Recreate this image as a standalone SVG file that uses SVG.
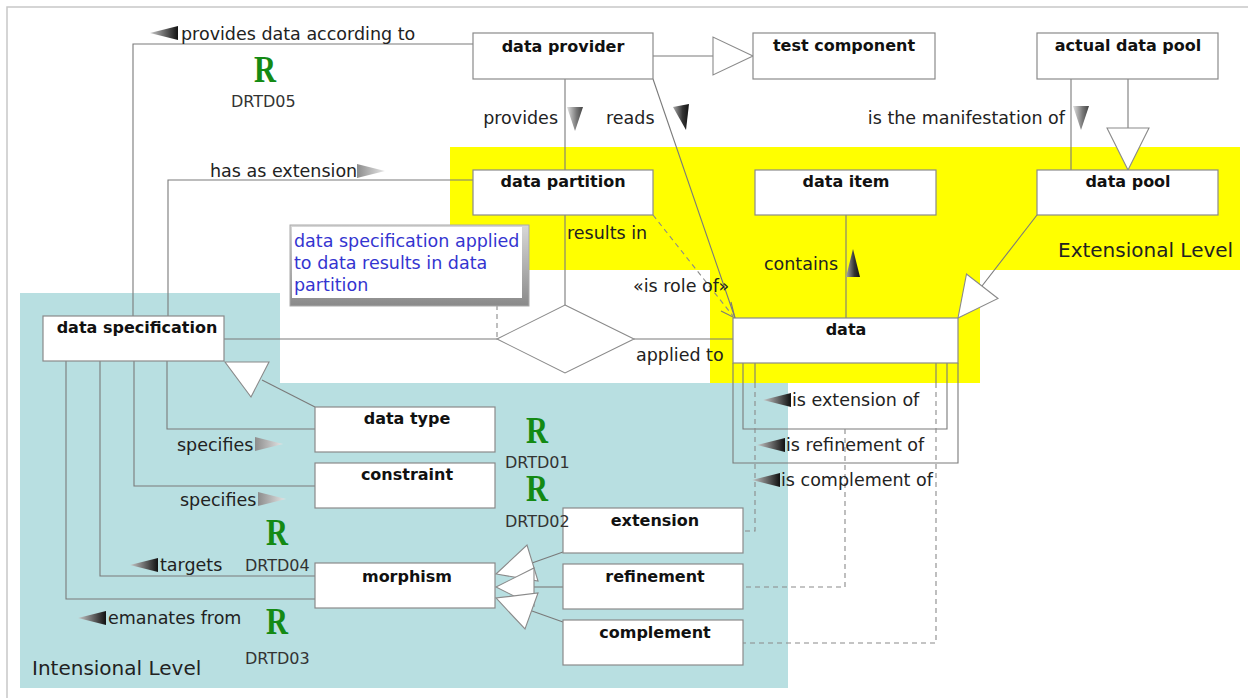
<svg xmlns="http://www.w3.org/2000/svg" xmlns:xlink="http://www.w3.org/1999/xlink" width="1248" height="698" viewBox="0 0 1248 698">
<style>
.box{fill:#fff;stroke:#8a8a8a;stroke-width:1.2}
.ttl{font-family:"DejaVu Sans","Liberation Sans",sans-serif;font-weight:bold;font-size:16px;fill:#111;text-anchor:middle}
.lbl{font-family:"DejaVu Sans","Liberation Sans",sans-serif;font-size:17.5px;fill:#222}
.lvl{font-family:"DejaVu Sans","Liberation Sans",sans-serif;font-size:20px;fill:#222}
.drtd{font-family:"DejaVu Sans","Liberation Sans",sans-serif;font-size:16px;fill:#333}
.r{font-family:"Liberation Serif","DejaVu Serif",serif;font-weight:bold;font-size:38px;fill:#148a14;text-anchor:middle}
.note{font-family:"DejaVu Sans","Liberation Sans",sans-serif;font-size:17.5px;fill:#3434d0}
.ln{fill:none;stroke:#7a7a7a;stroke-width:1.1}
.dash{fill:none;stroke:#8a8a8a;stroke-width:1.1;stroke-dasharray:5,4}
.hollow{fill:#fff;stroke:#8a8a8a;stroke-width:1.1}
</style>
<defs>
<linearGradient id="gL" x1="0" y1="0" x2="1" y2="0"><stop offset="0" stop-color="#c8c8c8"/><stop offset="1" stop-color="#111"/></linearGradient>
<linearGradient id="gR" x1="0" y1="0" x2="1" y2="0"><stop offset="0" stop-color="#8c8c8c"/><stop offset="1" stop-color="#e6e6e6"/></linearGradient>
<linearGradient id="gD" x1="0" y1="0" x2="1" y2="0"><stop offset="0" stop-color="#e0e0e0"/><stop offset="0.6" stop-color="#777"/><stop offset="1" stop-color="#444"/></linearGradient>
<linearGradient id="gK" x1="0" y1="0" x2="1" y2="0"><stop offset="0" stop-color="#aaa"/><stop offset="0.6" stop-color="#333"/><stop offset="1" stop-color="#111"/></linearGradient>
<linearGradient id="bev" x1="0" y1="0" x2="0" y2="1"><stop offset="0" stop-color="#d8d8d8"/><stop offset="1" stop-color="#8a8a8a"/></linearGradient>
<polygon id="mL" points="0,0 28,-7 28,7"/>
<polygon id="mR" points="0,-7 28,0 0,7"/>
<polygon id="mD" points="-8,0 8,0 0,24"/>
</defs>

<!-- background and level regions -->
<rect x="0" y="0" width="1248" height="698" fill="#fff"/>
<path d="M7,698 V7 H1248" fill="none" stroke="#c8c8c8" stroke-width="1.5"/>
<rect x="20" y="293" width="768" height="395" fill="#b8dfe1"/>
<rect x="280" y="293" width="430" height="90" fill="#fff"/>
<rect x="450" y="147" width="790" height="123" fill="#ffff00"/>
<rect x="710" y="270" width="270" height="113" fill="#ffff00"/>
<text class="lvl" x="1058" y="257">Extensional Level</text>
<text class="lvl" x="32" y="675">Intensional Level</text>

<!-- connectors -->
<g id="connectors">
<line class="ln" x1="653" y1="56" x2="713" y2="56"/>
<polygon class="hollow" points="713,37 713,75 753,56"/>
<line class="ln" x1="565" y1="79" x2="565" y2="170"/>
<line class="ln" x1="653" y1="79" x2="735" y2="318"/>
<line class="ln" x1="565" y1="215" x2="565" y2="305"/>
<line class="dash" x1="653" y1="215" x2="733" y2="316"/>
<polyline class="ln" points="731,302 735,318 721,311"/>
<line class="ln" x1="846" y1="215" x2="846" y2="318"/>
<line class="ln" x1="1037" y1="215" x2="982" y2="286"/>
<polygon class="hollow" points="998,298.5 966.5,274 958,318"/>
<line class="ln" x1="1071" y1="79" x2="1071" y2="170"/>
<line class="ln" x1="1128" y1="79" x2="1128" y2="128"/>
<polygon class="hollow" points="1107,128 1149,128 1128,170"/>
<line class="ln" x1="224" y1="339" x2="497" y2="339"/>
<line class="ln" x1="634" y1="339" x2="733" y2="339"/>
<polygon class="hollow" points="565,305 634,339 565,373 497,339"/>
<line class="dash" x1="497" y1="305" x2="497" y2="339"/>
<polyline class="ln" points="168,316 168,180 473,180"/>
<polyline class="ln" points="133,316 133,44 473,44"/>
<line class="ln" x1="262" y1="380" x2="315" y2="407"/>
<polygon class="hollow" points="225,362 269,362 251,397"/>
<polyline class="ln" points="167,361 167,429 315,429"/>
<polyline class="ln" points="134,361 134,486 315,486"/>
<polyline class="ln" points="100,361 100,576 315,576"/>
<polyline class="ln" points="66,361 66,599 315,599"/>
<line class="ln" x1="563" y1="552" x2="532" y2="563"/>
<polygon class="hollow" points="538,581 527,545 496,574"/>
<line class="ln" x1="563" y1="587" x2="534" y2="587"/>
<polygon class="hollow" points="534,568 534,606 496,587"/>
<line class="ln" x1="563" y1="622" x2="532" y2="611"/>
<polygon class="hollow" points="538,593 525,629 496,598"/>
<polyline class="ln" points="743,363 743,429 947,429 947,363"/>
<polyline class="ln" points="733,363 733,463 958,463 958,363"/>
<line class="ln" x1="755" y1="363" x2="755" y2="383"/>
<line class="ln" x1="936" y1="363" x2="936" y2="383"/>
<polyline class="dash" points="755,383 755,531 743,531"/>
<polyline class="dash" points="845,429 845,587 743,587"/>
<polyline class="dash" points="936,383 936,643 743,643"/>
</g>

<!-- note -->
<g id="note">
<rect x="290" y="225" width="239" height="81" fill="url(#bev)" stroke="#aaa" stroke-width="1"/>
<rect x="292" y="227" width="230" height="71" fill="#fff"/>
<text class="note" x="294" y="247">data specification applied</text>
<text class="note" x="294" y="269">to data results in data</text>
<text class="note" x="294" y="291">partition</text>
</g>

<!-- nodes -->
<g id="data-provider"><rect class="box" x="473" y="33" width="180" height="46"/><text class="ttl" x="563" y="52">data provider</text></g>
<g id="test-component"><rect class="box" x="753" y="33" width="182" height="46"/><text class="ttl" x="844" y="51">test component</text></g>
<g id="actual-data-pool"><rect class="box" x="1037" y="33" width="181" height="46"/><text class="ttl" x="1128" y="51">actual data pool</text></g>
<g id="data-partition"><rect class="box" x="473" y="170" width="180" height="45"/><text class="ttl" x="563" y="187">data partition</text></g>
<g id="data-item"><rect class="box" x="755" y="170" width="181" height="45"/><text class="ttl" x="846" y="187">data item</text></g>
<g id="data-pool"><rect class="box" x="1037" y="170" width="181" height="45"/><text class="ttl" x="1128" y="187">data pool</text></g>
<g id="data"><rect class="box" x="733" y="318" width="225" height="45"/><text class="ttl" x="846" y="335">data</text></g>
<g id="data-specification"><rect class="box" x="43" y="316" width="181" height="45"/><text class="ttl" x="137" y="333">data specification</text></g>
<g id="data-type"><rect class="box" x="315" y="407" width="180" height="45"/><text class="ttl" x="407" y="424">data type</text></g>
<g id="constraint"><rect class="box" x="315" y="463" width="180" height="45"/><text class="ttl" x="407" y="480">constraint</text></g>
<g id="morphism"><rect class="box" x="315" y="563" width="180" height="45"/><text class="ttl" x="407" y="582">morphism</text></g>
<g id="extension"><rect class="box" x="563" y="508" width="180" height="45"/><text class="ttl" x="655" y="526">extension</text></g>
<g id="refinement"><rect class="box" x="563" y="564" width="180" height="45"/><text class="ttl" x="655" y="582">refinement</text></g>
<g id="complement"><rect class="box" x="563" y="620" width="180" height="45"/><text class="ttl" x="655" y="638">complement</text></g>

<!-- connector labels and requirement markers -->
<g id="labels">
<use xlink:href="#mL" x="150" y="33" fill="url(#gL)"/>
<text class="lbl" x="181" y="40">provides data according to</text>
<text class="r" x="265" y="82" textLength="22" lengthAdjust="spacingAndGlyphs">R</text>
<text class="drtd" x="231" y="107">DRTD05</text>
<text class="lbl" x="558" y="124" text-anchor="end">provides</text>
<use xlink:href="#mD" x="575" y="107" fill="url(#gD)"/>
<text class="lbl" x="606" y="124">reads</text>
<polygon points="673,107 689,104 686,130" fill="url(#gK)"/>
<text class="lbl" x="1065" y="124" text-anchor="end">is the manifestation of</text>
<use xlink:href="#mD" x="1081" y="106" fill="url(#gD)"/>
<text class="lbl" x="210" y="177">has as extension</text>
<use xlink:href="#mR" x="357" y="171" fill="url(#gR)"/>
<text class="lbl" x="567" y="239">results in</text>
<text class="lbl" x="838" y="270" text-anchor="end">contains</text>
<polygon points="846,277 860,277 853,249" fill="url(#gK)"/>
<text class="lbl" x="633" y="292">«is role of»</text>
<text class="lbl" x="636" y="361">applied to</text>
<use xlink:href="#mL" x="763" y="400" fill="url(#gL)"/>
<text class="lbl" x="792" y="406">is extension of</text>
<use xlink:href="#mL" x="757" y="445" fill="url(#gL)"/>
<text class="lbl" x="786" y="451">is refinement of</text>
<use xlink:href="#mL" x="752" y="480" fill="url(#gL)"/>
<text class="lbl" x="781" y="486">is complement of</text>
<text class="lbl" x="177" y="451">specifies</text>
<use xlink:href="#mR" x="255" y="444" fill="url(#gR)"/>
<text class="lbl" x="180" y="506">specifies</text>
<use xlink:href="#mR" x="258" y="499" fill="url(#gR)"/>
<use xlink:href="#mL" x="130" y="565" fill="url(#gL)"/>
<text class="lbl" x="160" y="571">targets</text>
<text class="r" x="277" y="545" textLength="22" lengthAdjust="spacingAndGlyphs">R</text>
<text class="drtd" x="245" y="571">DRTD04</text>
<use xlink:href="#mL" x="78" y="618" fill="url(#gL)"/>
<text class="lbl" x="108" y="624">emanates from</text>
<text class="r" x="277" y="634" textLength="22" lengthAdjust="spacingAndGlyphs">R</text>
<text class="drtd" x="245" y="664">DRTD03</text>
<text class="r" x="537" y="443" textLength="22" lengthAdjust="spacingAndGlyphs">R</text>
<text class="drtd" x="505" y="468">DRTD01</text>
<text class="r" x="537" y="501" textLength="22" lengthAdjust="spacingAndGlyphs">R</text>
<text class="drtd" x="505" y="527">DRTD02</text>
</g>
</svg>
